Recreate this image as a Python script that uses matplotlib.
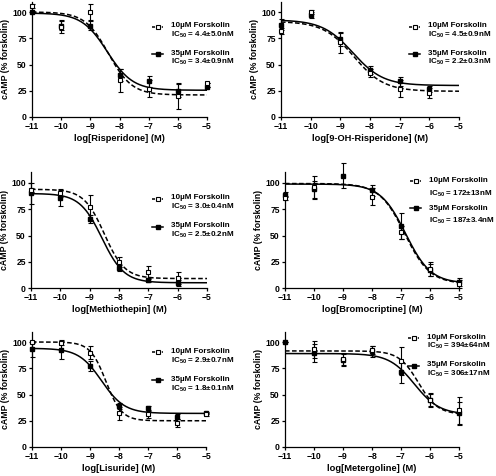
import numpy as np
import matplotlib
matplotlib.use("Agg")
import matplotlib.pyplot as plt
from matplotlib.legend_handler import HandlerLine2D
from matplotlib.lines import Line2D

plt.rcParams["font.family"] = ["Liberation Sans", "DejaVu Sans"]
plt.rcParams["font.weight"] = "bold"
plt.rcParams["axes.labelweight"] = "bold"
plt.rcParams["mathtext.fontset"] = "custom"
plt.rcParams["mathtext.rm"] = "Liberation Sans:bold"
plt.rcParams["mathtext.it"] = "Liberation Sans:bold"
plt.rcParams["mathtext.bf"] = "Liberation Sans:bold"

# log concentration (M)
conc = [-11, -10, -9, -8, -7, -6, -5]

drugs = ["Risperidone", "9-OH-Risperidone", "Methiothepin",
         "Bromocriptine", "Lisuride", "Metergoline"]
ic50_10 = ["4.4\u00b15.0nM", "4.5\u00b10.9nM", "3.0\u00b10.4nM",
           "172\u00b113nM", "2.9\u00b10.7nM", "394\u00b164nM"]
ic50_35 = ["3.4\u00b10.9nM", "2.2\u00b10.3nM", "2.5\u00b10.2nM",
           "187\u00b13.4nM", "1.8\u00b10.1nM", "306\u00b117nM"]

nan = np.nan
# 10uM forskolin (open squares)
y10 = [
    [106, 86, 100, 35, 27, 20, 32],
    [82, 100, 71, 42, 27, 23, nan],
    [93, 90, 77, 25, 15, 9.5, nan],
    [86, 96, nan, 87, 53, 18, 4],
    [100, 99, 90, 32, 31, 23, 31],
    [nan, 93, 84, 92.5, 82, 45, 35],
]
e10 = [
    [2, 6, 8, 11, 8, 12, 0],
    [3, 2, 10, 4, 8, 5, 0],
    [2, 3, 12, 5, 6, 6, 0],
    [2, 11, 0, 8, 6, 7, 4],
    [1, 2, 6, 6, 3, 4, 1],
    [0, 8, 6, 4, 13, 6, 13],
]
# 35uM forskolin (filled squares)
y35 = [
    [100, 87, 87, 40, 34, 25, 29],
    [88, 97, 74, 45, 34, 26.5, nan],
    [90, 86, 66, 19, 8, 4.5, nan],
    [89, 94, 107, 93, 59, 17, 6],
    [93, 92.5, 77, 39, 37.5, 29, 32],
    [100, 89.5, 83, 91, 71, 44.5, 32],
]
e35 = [
    [1, 4, 4, 6, 5, 6, 0],
    [5, 3, 6, 4, 4, 3, 0],
    [10, 8, 4, 3, 2, 3, 0],
    [2, 8, 12, 5, 12, 6, 4],
    [7, 9, 5, 3, 2, 2, 1],
    [0, 9, 6, 5, 10, 6, 11],
]
# fitted curves: top, bottom, logIC50, hill
fit10 = [
    (100, 21, -8.38, 1.08),
    (91, 24.5, -8.55, 0.85),
    (94, 9, -8.50, 1.25),
    (99.5, 4, -6.87, 1.0),
    (100, 25, -8.45, 1.6),
    (91.5, 31, -6.40, 1.3),
]
fit35 = [
    (99, 25.5, -8.42, 1.0),
    (92.5, 30, -8.58, 0.85),
    (90, 5, -8.58, 1.15),
    (99, 4.5, -6.84, 1.0),
    (94, 32, -8.60, 1.1),
    (89, 31, -6.54, 1.0),
]

# axes boxes in pixels: left, bottom-from-top, width
boxes = [(32, 117, 175), (281, 117, 178), (31, 288, 176),
         (285, 288, 174), (32, 447, 174), (285, 447, 174)]
# legend anchor (axes fraction), line spacing, label spacing
leg_pos = [(0.686, 0.82, 1.05, 1.25), (0.719, 0.82, 1.05, 1.25),
           (0.687, 0.81, 1.1, 1.25), (0.718, 0.96, 1.6, 0.75),
           (0.69, 0.86, 1.2, 1.15), (0.707, 0.98, 1.05, 1.25)]


class FirstLineHandler(HandlerLine2D):
    def __init__(self, shift, **kw):
        super().__init__(**kw)
        self.shift = shift

    def create_artists(self, legend, orig_handle, xdescent, ydescent,
                       width, height, fontsize, trans):
        arts = super().create_artists(legend, orig_handle, xdescent, ydescent,
                                      width, height, fontsize, trans)
        for a in arts:
            a.set_ydata(np.asarray(a.get_ydata(), float) + self.shift)
        return arts


def four_pl(x, top, bottom, logic, hill):
    return bottom + (top - bottom) / (1 + 10 ** ((x - logic) * hill))


W, H = 496, 476
fig = plt.figure(figsize=(W / 100, H / 100), dpi=100)
xs = np.linspace(-11, -5, 300)

for i, drug in enumerate(drugs):
    l, b, w = boxes[i]
    h = 115.5
    ax = fig.add_axes([l / W, 1 - b / H, w / W, h / H])

    ax.plot(xs, four_pl(xs, *fit10[i]), color="black", lw=1.1, dashes=(3, 1.6))
    ax.plot(xs, four_pl(xs, *fit35[i]), color="black", lw=1.1)
    ax.errorbar(conc, y35[i], yerr=e35[i], fmt="s", ms=3.2, mfc="black",
                mec="black", ecolor="black", elinewidth=0.8, capsize=1.8,
                capthick=0.8, clip_on=False, zorder=3)
    ax.errorbar(conc, y10[i], yerr=e10[i], fmt="s", ms=3.2, mfc="white",
                mec="black", mew=0.8, ecolor="black", elinewidth=0.8,
                capsize=1.8, capthick=0.8, clip_on=False, zorder=4)

    ax.set_xlim(-11, -5)
    ax.set_ylim(0, 110)
    ax.set_xticks(conc)
    ax.set_yticks([0, 25, 50, 75, 100])
    for s in ["top", "right"]:
        ax.spines[s].set_visible(False)
    for s in ["left", "bottom"]:
        ax.spines[s].set_linewidth(0.9)
    ax.tick_params(length=2.5, width=0.9, labelsize=6.2, pad=1.2)
    ax.set_xlabel("log[" + drug + "] (M)", fontsize=6.7)
    ax.set_ylabel("cAMP (% forskolin)", fontsize=6.3)
    ax.xaxis.set_label_coords(0.5, -0.145)
    ax.yaxis.set_label_coords(-22 / w, 0.5)

    lx, ly, lsp, lab = leg_pos[i]
    h10 = Line2D([], [], color="black", lw=1.1, dashes=(2, 1.2), marker="s",
                 ms=3.2, mfc="white", mec="black", mew=0.8)
    h35 = Line2D([], [], color="black", lw=1.1, marker="s", ms=3.2,
                 mfc="black", mec="black")
    fs = 5.8
    shift = 0.5 * lsp * fs
    leg = ax.legend(
        [h10, h35],
        ["10\u00b5M Forskolin\nIC$_{50}$ = " + ic50_10[i],
         "35\u00b5M Forskolin\nIC$_{50}$ = " + ic50_35[i]],
        loc="upper left", bbox_to_anchor=(lx, ly), frameon=False,
        fontsize=fs, handlelength=1.4, handletextpad=1.0, numpoints=1,
        borderpad=0, borderaxespad=0, labelspacing=lab,
        handler_map={Line2D: FirstLineHandler(shift)},
    )
    for t in leg.get_texts():
        t.set_linespacing(lsp)
    leg.set_clip_on(False)

fig.savefig("out.png", dpi=100)
